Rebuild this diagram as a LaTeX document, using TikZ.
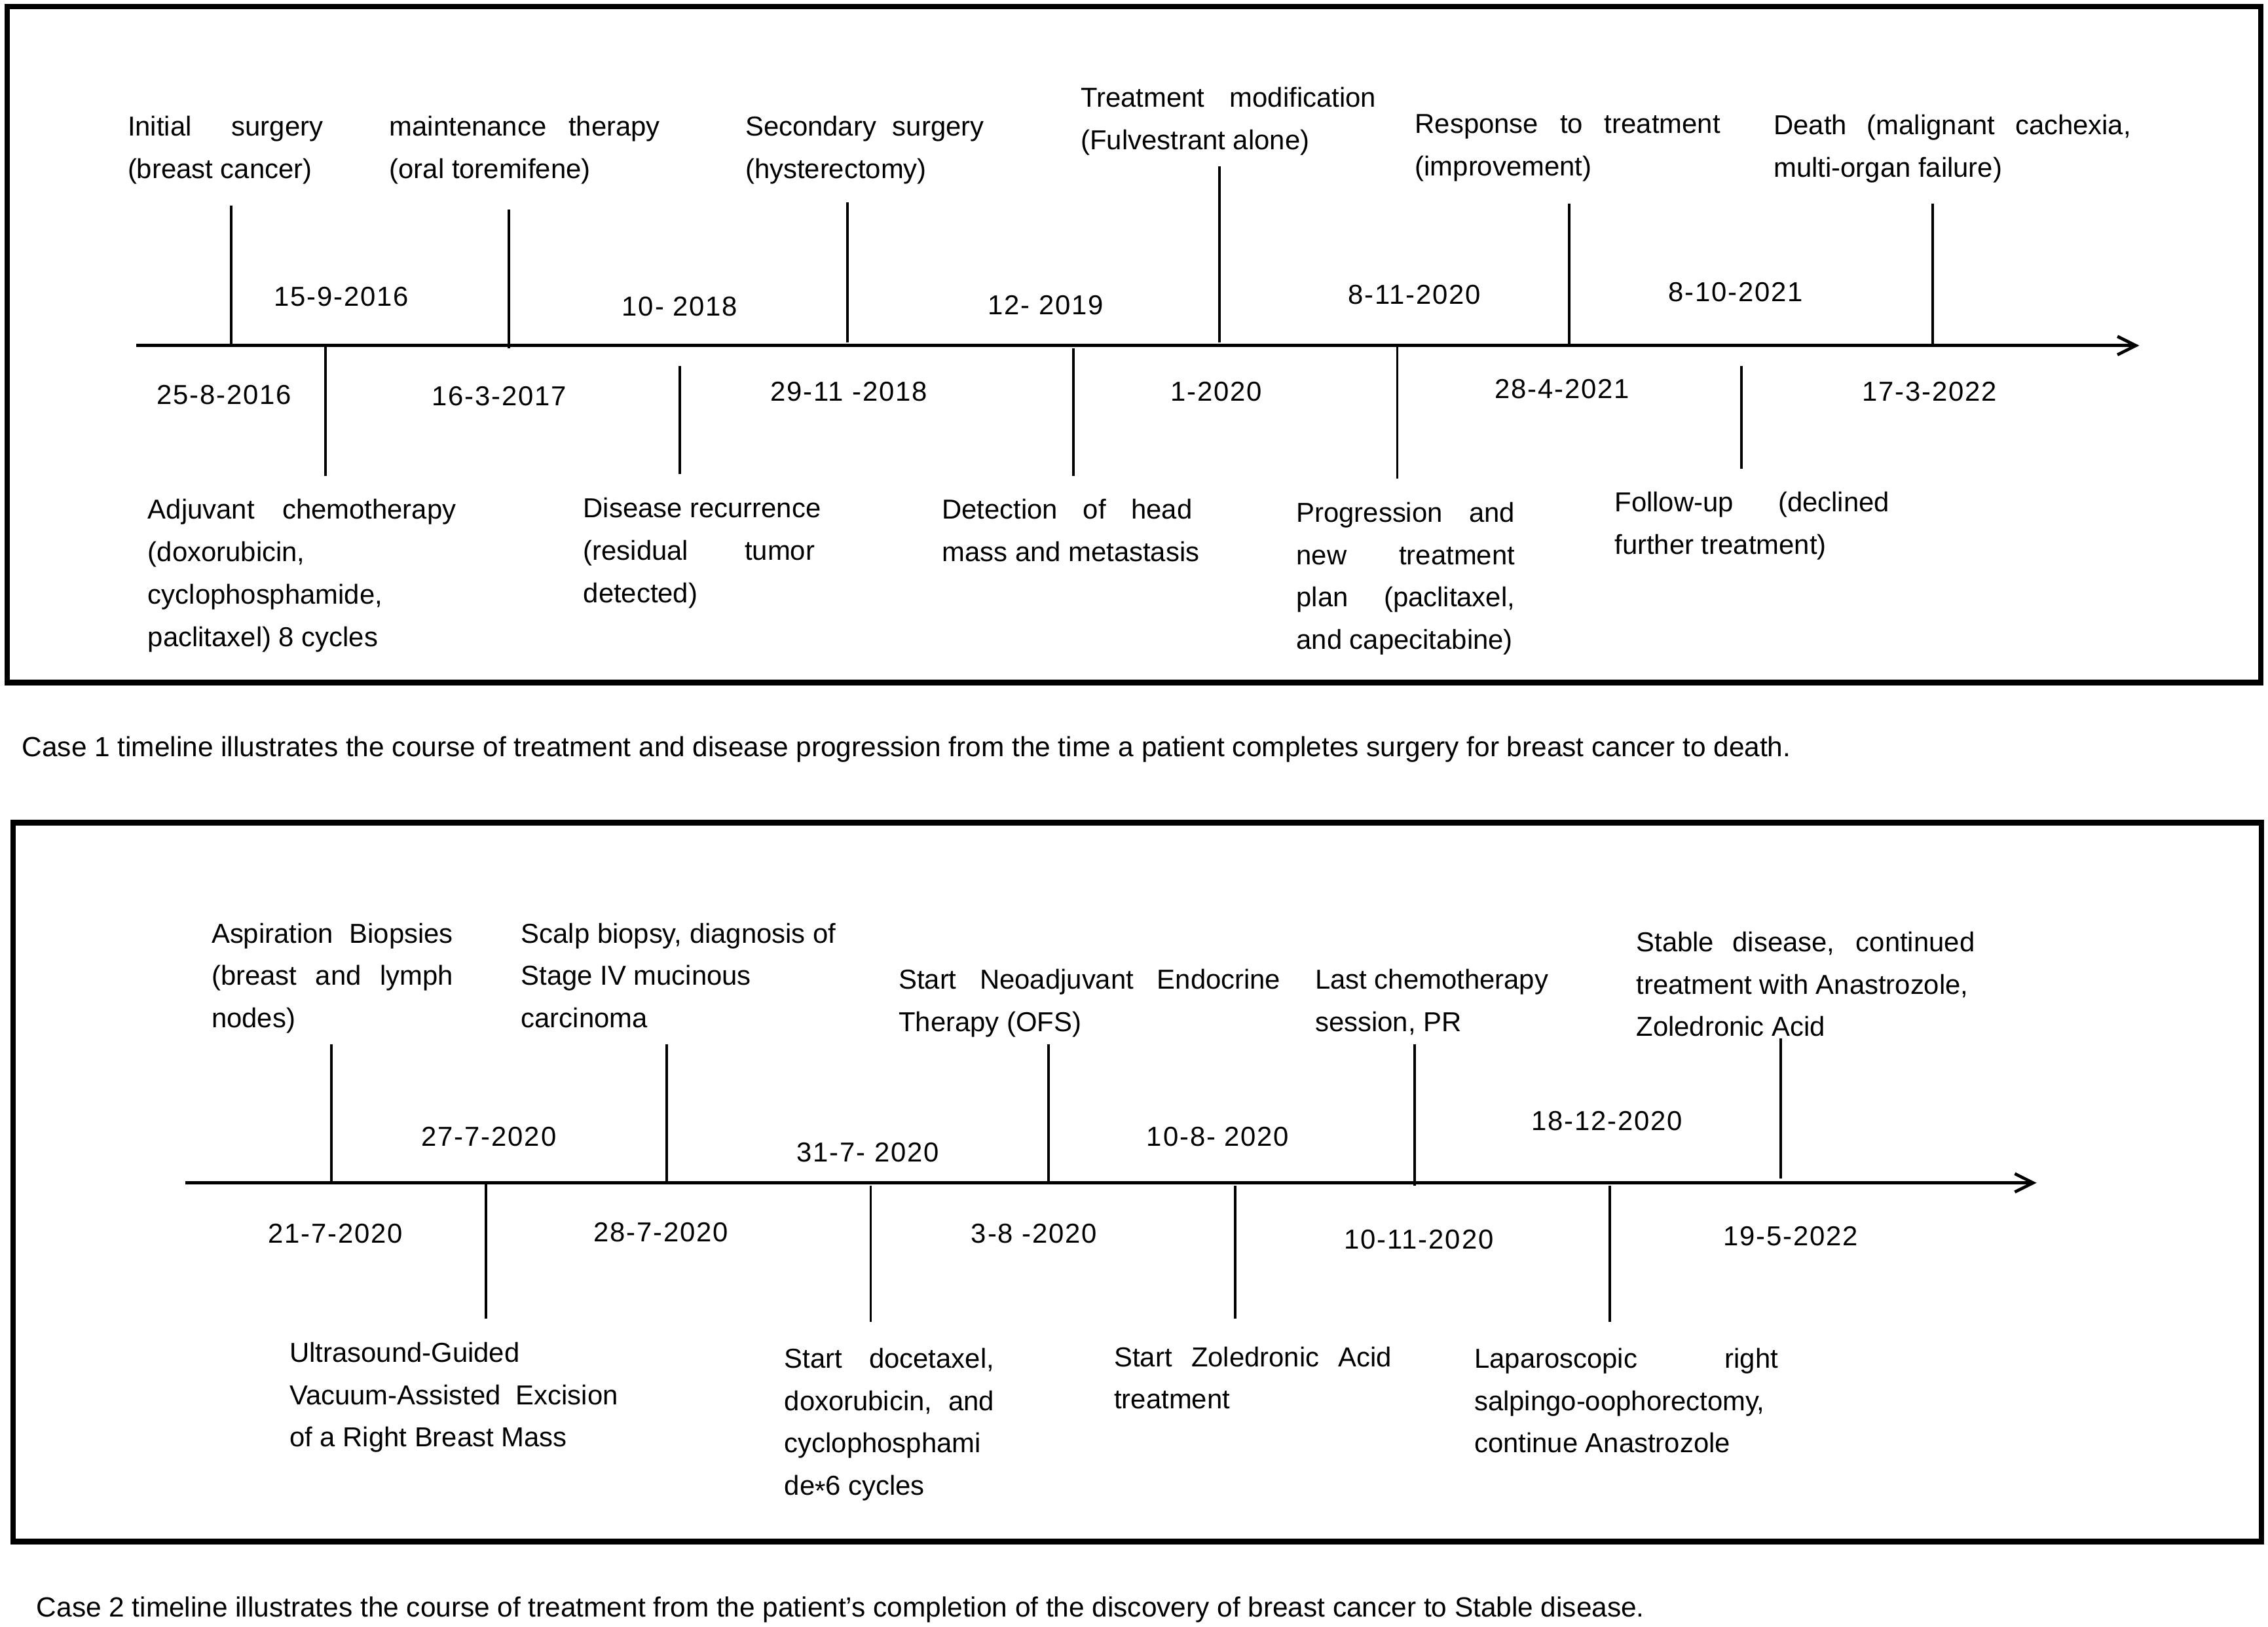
\documentclass[tikz,border=0pt]{standalone}
\usepackage{fontspec}
\setmainfont{Liberation Sans}
\newfontfamily\datefont{Liberation Sans}[LetterSpace=4.5]
\usetikzlibrary{arrows.meta}
\newdimen\pxu \pxu=0.022085cm
\newcommand\jl[2]{\makebox[#1\pxu][s]{#2}}
\newcommand\tk[4]{\coordinate (#1a) at (#2,#3); \coordinate (#1b) at (#2,#4); \draw[tickln] (#1a) -- (#1b);}
\begin{document}
\begin{tikzpicture}[x=0.022085cm, y=-0.022085cm,
  font=\fontsize{11.9}{18.4}\selectfont,
  lbl/.style={anchor=north west, inner sep=0pt, align=left},
  datelbl/.style={anchor=center, inner sep=0pt, font=\datefont\fontsize{11.9}{18.4}\selectfont},
  tickln/.style={line width=1.1pt},
  axisln/.style={line width=1.35pt, -{Straight Barb[length=2.8mm, width=2.8mm, line width=1.35pt]}},
  frame/.style={line width=2.4pt},
  caption/.style={anchor=base west, inner sep=0pt, font=\fontsize{12.05}{18.4}\selectfont}]
\useasboundingbox (0,0) rectangle (1568,1125);

% ---------------- Case 1 ----------------
\draw[frame] (5,4.5) rectangle (1563,472);
\coordinate (axAs) at (94,239);
\coordinate (axAe) at (1479,239);
\draw[axisln] (axAs) -- (axAe);

% labels above
\node[lbl] (a1) at (88,80) {\jl{135}{Initial surgery}\\(breast cancer)};
\node[lbl] (a2) at (269,80) {\jl{187}{maintenance therapy}\\(oral toremifene)};
\node[lbl] (a3) at (515,80) {\jl{165}{Secondary surgery}\\(hysterectomy)};
\node[lbl] (a4) at (747,60) {\jl{204}{Treatment modification}\\(Fulvestrant alone)};
\node[lbl] (a5) at (978,79) {\jl{211}{Response to treatment}\\(improvement)};
\node[lbl] (a6) at (1226,79) {\jl{247}{Death (malignant cachexia,}\\multi-organ failure)};

\tk{ta1}{160}{142}{239}
\tk{ta2}{352}{145}{241}
\tk{ta3}{586}{140}{237}
\tk{ta4}{843}{115}{237}
\tk{ta5}{1085}{141}{239}
\tk{ta6}{1336}{141}{239}

% labels below
\node[lbl] (b1) at (102,345) {\jl{213}{Adjuvant chemotherapy}\\(doxorubicin,\\cyclophosphamide,\\paclitaxel) 8 cycles};
\node[lbl] (b2) at (403,344) {Disease recurrence\\\jl{160}{(residual tumor}\\detected)};
\node[lbl] (b3) at (651,345) {\jl{173}{Detection of head}\\mass and metastasis};
\node[lbl] (b4) at (896,347) {\jl{151}{Progression and}\\\jl{151}{new treatment}\\\jl{151}{plan (paclitaxel,}\\and capecitabine)};
\node[lbl] (b5) at (1116,340) {\jl{190}{Follow-up (declined}\\further treatment)};

\tk{tb1}{225}{239}{329}
\tk{tb2}{470}{253}{328}
\tk{tb3}{742}{241}{329}
\tk{tb4}{966}{239}{331}
\tk{tb5}{1204}{253}{324}

% dates
\node[datelbl] (d1) at (236,205) {15-9-2016};
\node[datelbl] (d2) at (470,212) {10- 2018};
\node[datelbl] (d3) at (723,211) {12- 2019};
\node[datelbl] (d4) at (978,204) {8-11-2020};
\node[datelbl] (d5) at (1200,202) {8-10-2021};
\node[datelbl] (e1) at (155,273) {25-8-2016};
\node[datelbl] (e2) at (345,274) {16-3-2017};
\node[datelbl] (e3) at (587,271) {29-11 -2018};
\node[datelbl] (e4) at (841,271) {1-2020};
\node[datelbl] (e5) at (1080,269) {28-4-2021};
\node[datelbl] (e6) at (1334,271) {17-3-2022};

\node[caption] (cap1) at (15,523) {Case 1 timeline illustrates the course of treatment and disease progression from the time a patient completes surgery for breast cancer to death.};

% ---------------- Case 2 ----------------
\draw[frame] (9,569) rectangle (1563.5,1066);
\coordinate (axBs) at (128,818);
\coordinate (axBe) at (1408,818);
\draw[axisln] (axBs) -- (axBe);

\node[lbl] (c1) at (146,638) {\jl{167}{Aspiration Biopsies}\\\jl{167}{(breast and lymph}\\nodes)};
\node[lbl] (c2) at (360,638) {Scalp biopsy, diagnosis of\\Stage IV mucinous\\carcinoma};
\node[lbl] (c3) at (621,670) {\jl{264}{Start Neoadjuvant Endocrine}\\Therapy (OFS)};
\node[lbl] (c4) at (909,670) {Last chemotherapy\\session, PR};
\node[lbl] (c5) at (1131,644) {\jl{234}{Stable disease, continued}\\treatment with Anastrozole,\\Zoledronic Acid};

\tk{tc1}{229}{722}{818}
\tk{tc2}{461}{722}{818}
\tk{tc3}{725}{722}{818}
\tk{tc4}{978}{722}{820}
\tk{tc5}{1231}{718}{815}

\node[lbl] (g1) at (200,928) {Ultrasound-Guided\\\jl{227}{Vacuum-Assisted Excision}\\of a Right Breast Mass};
\node[lbl] (g2) at (542,932) {\jl{145}{Start docetaxel,}\\\jl{145}{doxorubicin, and}\\cyclophosphami\\de\raisebox{-0.35ex}{*}6 cycles};
\node[lbl] (g3) at (770,931) {\jl{192}{Start Zoledronic Acid}\\treatment};
\node[lbl] (g4) at (1019,932) {\jl{210}{Laparoscopic right}\\salpingo-oophorectomy,\\continue Anastrozole};

\tk{td1}{336}{818}{912}
\tk{td2}{602}{820}{914}
\tk{td3}{854}{820}{912}
\tk{td4}{1113}{820}{914}

\node[datelbl] (f1) at (338,786) {27-7-2020};
\node[datelbl] (f2) at (600,797) {31-7- 2020};
\node[datelbl] (f3) at (842,786) {10-8- 2020};
\node[datelbl] (f4) at (1111,775) {18-12-2020};
\node[datelbl] (h1) at (232,853) {21-7-2020};
\node[datelbl] (h2) at (457,852) {28-7-2020};
\node[datelbl] (h3) at (715,853) {3-8 -2020};
\node[datelbl] (h4) at (981,857) {10-11-2020};
\node[datelbl] (h5) at (1238,855) {19-5-2022};

\node[caption] (cap2) at (25,1118) {Case 2 timeline illustrates the course of treatment from the patient's completion of the discovery of breast cancer to Stable disease.};
\end{tikzpicture}
\end{document}
